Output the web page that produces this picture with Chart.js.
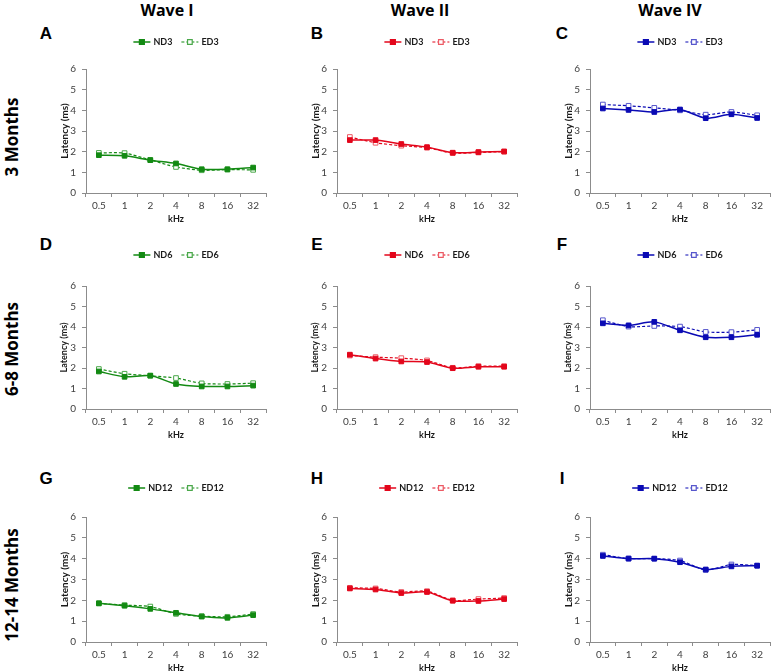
<!DOCTYPE html>
<html>
<head>
<meta charset="utf-8">
<title>Latency by frequency</title>
<script src="https://cdn.jsdelivr.net/npm/chart.js@4/dist/chart.umd.min.js"></script>
<style>
  html, body { margin: 0; padding: 0; background: #fff; }
  body { position: relative; width: 777px; height: 672px; overflow: hidden; font-family: "Open Sans", sans-serif; }
  .lbl { position: absolute; font-weight: 700; color: #000; white-space: nowrap; transform: translate(-50%, -50%); }
  .wave { font-size: 16px; }
  .letter { font-family: "Liberation Sans", Arial, sans-serif; font-size: 17px; }
  .row { font-size: 17px; transform: translate(-50%, -50%) rotate(-90deg); }
  canvas { position: absolute; }
</style>
</head>
<body>
<script>
// ── 데이터 ──────────────────────────────────────────────────────────────
const freqs = ['0.5', '1', '2', '4', '8', '16', '32'];
const yTicks = [0, 1, 2, 3, 4, 5, 6];
const waveTitles = ['Wave I', 'Wave II', 'Wave IV'];
const ageRows = ['3 Months', '6-8 Months', '12-14 Months'];
const panelLetters = ['A', 'B', 'C', 'D', 'E', 'F', 'G', 'H', 'I'];
const groupNames = [['ND3', 'ED3'], ['ND6', 'ED6'], ['ND12', 'ED12']];

// Wave I
const nd3W1  = [1.83, 1.80, 1.59, 1.43, 1.15, 1.15, 1.23];
const ed3W1  = [1.94, 1.93, 1.60, 1.26, 1.10, 1.13, 1.12];
const nd6W1  = [1.83, 1.57, 1.63, 1.22, 1.10, 1.10, 1.14];
const ed6W1  = [1.95, 1.72, 1.62, 1.51, 1.25, 1.22, 1.26];
const nd12W1 = [1.86, 1.74, 1.59, 1.40, 1.22, 1.16, 1.29];
const ed12W1 = [1.85, 1.77, 1.70, 1.35, 1.24, 1.21, 1.34];

// Wave II
const nd3W2  = [2.56, 2.56, 2.37, 2.22, 1.95, 1.98, 2.01];
const ed3W2  = [2.71, 2.43, 2.29, 2.19, 1.93, 1.96, 2.00];
const nd6W2  = [2.65, 2.46, 2.32, 2.29, 1.99, 2.06, 2.06];
const ed6W2  = [2.61, 2.53, 2.48, 2.37, 2.01, 2.09, 2.09];
const nd12W2 = [2.57, 2.52, 2.35, 2.40, 1.98, 1.97, 2.06];
const ed12W2 = [2.60, 2.57, 2.40, 2.44, 2.00, 2.06, 2.11];

// Wave IV
const nd3W4  = [4.09, 4.02, 3.92, 4.04, 3.62, 3.81, 3.63];
const ed3W4  = [4.28, 4.22, 4.12, 4.00, 3.79, 3.92, 3.76];
const nd6W4  = [4.18, 4.08, 4.25, 3.84, 3.50, 3.50, 3.62];
const ed6W4  = [4.33, 4.02, 4.05, 4.02, 3.76, 3.75, 3.86];
const nd12W4 = [4.13, 4.00, 4.00, 3.83, 3.48, 3.63, 3.66];
const ed12W4 = [4.19, 4.01, 4.00, 3.91, 3.46, 3.72, 3.67];

(function () {
  'use strict';

  // 행 = 나이, 열 = wave
  const series = [
    [[nd3W1, ed3W1], [nd3W2, ed3W2], [nd3W4, ed3W4]],
    [[nd6W1, ed6W1], [nd6W2, ed6W2], [nd6W4, ed6W4]],
    [[nd12W1, ed12W1], [nd12W2, ed12W2], [nd12W4, ed12W4]],
  ];

  const colors = [
    { line: '#138a13', light: '#4aa84a' },
    { line: '#e3061b', light: '#ec5a64' },
    { line: '#0a0ab4', light: '#5656cc' },
  ];

  // ── 레이아웃 ──────────────────────────────────────────────────────────
  const colLeft = [86, 337, 590];
  const areaW = 182;
  const rowTop = [69, 286, 517];
  const rowH = [124, 123, 125];
  const legendY = [42, 255, 488];
  const padTop = 40, yAxisW = 27, xAxisH = 31, padRight = 3;

  Chart.defaults.font.family = 'Lato, "Open Sans", sans-serif';
  Chart.defaults.color = '#404040';

  function addLabel(cls, text, x, y) {
    const d = document.createElement('div');
    d.className = 'lbl ' + cls;
    d.textContent = text;
    d.style.left = x + 'px';
    d.style.top = y + 'px';
    document.body.appendChild(d);
  }

  // 범례: 선 + 마커 + 라벨, 차트 영역 가운데 위
  const legendRow = {
    id: 'legendRow',
    afterDraw(chart, args, opts) {
      const ctx = chart.ctx;
      const area = chart.chartArea;
      const seg = 17, gap = 3, sep = 9;
      ctx.save();
      ctx.font = 'bold 9px Lato';
      const items = chart.data.datasets.map(ds => ({ ds, w: seg + gap + ctx.measureText(ds.label).width }));
      const total = items.reduce((s, it) => s + it.w, 0) + sep * (items.length - 1);
      let x = (area.left + area.right) / 2 - total / 2;
      const y = opts.y;
      items.forEach(({ ds, w }) => {
        ctx.strokeStyle = ds.borderColor;
        ctx.lineWidth = ds.borderWidth;
        ctx.setLineDash(ds.borderDash || []);
        ctx.beginPath();
        ctx.moveTo(x, y);
        ctx.lineTo(x + seg, y);
        ctx.stroke();
        ctx.setLineDash([]);
        ctx.fillStyle = ds.pointBackgroundColor;
        ctx.strokeStyle = ds.pointBorderColor;
        Chart.helpers.drawPoint(ctx, { pointStyle: 'rect', radius: 3.3, borderWidth: 1 }, x + seg / 2, y);
        ctx.fillStyle = '#1a1a1a';
        ctx.textBaseline = 'middle';
        ctx.textAlign = 'left';
        ctx.fillText(ds.label, x + seg + gap, y + 0.5);
        x += w + sep;
      });
      ctx.restore();
    }
  };

  function makeDatasets(r, c) {
    const col = colors[c];
    const [nd, ed] = series[r][c];
    const [ndName, edName] = groupNames[r];
    return [
      {
        label: ndName, data: nd,
        borderColor: col.line, borderWidth: 1.5, tension: 0.25,
        pointStyle: 'rect', pointRadius: 3.3, pointBorderWidth: 1,
        pointBackgroundColor: col.line, pointBorderColor: col.line
      },
      {
        label: edName, data: ed,
        borderColor: col.line, borderWidth: 1.2, borderDash: [3, 2], tension: 0.25,
        pointStyle: 'rect', pointRadius: 3.3, pointBorderWidth: 1,
        pointBackgroundColor: '#fff', pointBorderColor: col.light
      }
    ];
  }

  function renderPanel(r, c) {
    const cv = document.createElement('canvas');
    const w = yAxisW + areaW + padRight;
    const h = padTop + rowH[r] + xAxisH;
    cv.width = w; cv.height = h;
    cv.style.left = (colLeft[c] - yAxisW) + 'px';
    cv.style.top = (rowTop[r] - padTop) + 'px';
    cv.style.width = w + 'px'; cv.style.height = h + 'px';
    document.body.appendChild(cv);

    new Chart(cv, {
      type: 'line',
      data: { labels: freqs, datasets: makeDatasets(r, c) },
      options: {
        responsive: false, animation: false, devicePixelRatio: 1,
        layout: { padding: { top: padTop, right: padRight, left: 0, bottom: 0 } },
        plugins: {
          legend: { display: false }, tooltip: { enabled: false },
          legendRow: { y: legendY[r] - (rowTop[r] - padTop) }
        },
        scales: {
          x: {
            type: 'category', offset: true,
            grid: { offset: true, drawOnChartArea: false, drawTicks: true, tickLength: 4, color: '#8c8c8c' },
            border: { color: '#8c8c8c', width: 1 },
            ticks: { padding: 3, font: { size: 10 }, color: '#404040', maxRotation: 0, autoSkip: false },
            title: { display: true, text: 'kHz', color: '#1a1a1a', padding: 0, font: { size: 9, weight: 'bold' } },
            afterFit(s) { s.height = xAxisH; }
          },
          y: {
            min: yTicks[0], max: yTicks[yTicks.length - 1],
            grid: { drawOnChartArea: false, drawTicks: true, tickLength: 4, color: '#8c8c8c' },
            border: { color: '#8c8c8c', width: 1 },
            ticks: { stepSize: 1, padding: 6, font: { size: 10 }, color: '#404040' },
            title: {
              display: true, text: 'Latency (ms)', color: '#1a1a1a', padding: 0,
              font: { size: r === 1 ? 9 : 10, weight: 'bold' }
            },
            afterFit(s) { s.width = yAxisW; }
          }
        }
      },
      plugins: [legendRow]
    });
  }

  // ── 렌더 ──────────────────────────────────────────────────────────────
  const waveX = [167, 420, 670];
  waveTitles.forEach((t, i) => addLabel('wave', t, waveX[i], 10));

  const rowCenterY = [137, 349, 585];
  ageRows.forEach((t, i) => addLabel('row', t, 11, rowCenterY[i]));

  const letterX = [46, 317, 562];
  const letterY = [34, 245, 479];
  panelLetters.forEach((t, i) => addLabel('letter', t, letterX[i % 3], letterY[Math.floor(i / 3)]));

  for (let r = 0; r < 3; r++) {
    for (let c = 0; c < 3; c++) renderPanel(r, c);
  }
})();
</script>
</body>
</html>
